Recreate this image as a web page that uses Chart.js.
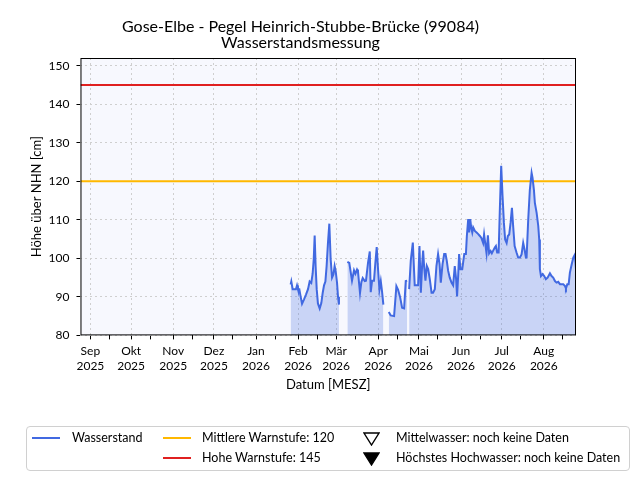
<!DOCTYPE html>
<html lang="de">
<head>
<meta charset="utf-8">
<title>Gose-Elbe - Pegel Heinrich-Stubbe-Brücke</title>
<script src="https://cdn.jsdelivr.net/npm/chart.js@4.4.1/dist/chart.umd.min.js"></script>
<style>
    html, body { margin: 0; padding: 0; background: #fff; }
    #wrap { position: relative; width: 640px; height: 480px; font-family: Lato, sans-serif; color: #000; }
    #legend {
        position: absolute; left: 26px; top: 426px; width: 602px; height: 43px;
        border: 1px solid #d0d0d0; border-radius: 4px; font-size: 12.5px;
    }
    .lg { position: absolute; white-space: nowrap; line-height: 16px; }
</style>
</head>
<body>
<div id="wrap">
    <canvas id="pegelChart" width="640" height="480"></canvas>
    <div id="legend"></div>
</div>
<script>
// Tage seit 01.09.2025 (Messzeitpunkte), null im Wasserstand = Messlücke
const tage = [
    147.5, 148.0, 149.0, 150.4, 151.4, 152.2, 152.9, 153.9, 154.9, 155.9, 157.3, 158.8, 160.3, 161.5, 162.7, 163.7, 164.5, 165.2, 165.9, 166.7, 167.6, 168.9, 170.1, 171.1, 172.1, 173.1, 174.0, 175.0, 176.0, 177.0, 178.0, 179.0, 179.9, 180.7, 181.7, 182.4, 183.1,
    186.0,
    189.3, 190.7, 192.7, 194.2, 195.2, 196.4, 197.1, 198.6, 199.6, 200.6, 202.1, 203.0, 204.5, 205.8, 206.5, 207.5, 208.9, 209.9, 210.9, 211.9, 212.9, 213.9, 214.8, 215.8,
    217.8,
    219.8, 221.2, 223.7, 225.4, 226.6, 228.1, 229.6, 231.1, 232.3, 233.3,
    234.0,
    234.8, 236.0, 237.5, 238.9, 240.4, 241.4, 242.4, 243.4, 244.4, 245.1,
    245.8, 246.8, 247.8, 248.8, 250.0, 251.3, 252.4, 253.7, 254.9, 256.1,
    257.2, 258.1, 259.4, 260.6, 261.6, 262.5, 263.5, 264.7, 266.0, 267.2,
    268.4, 269.4, 270.1, 270.9, 271.6, 272.6, 273.9, 275.4, 276.6, 277.3,
    278.3, 279.0, 279.8, 280.5, 281.3, 282.0, 283.2, 284.5, 285.7, 286.9,
    288.0, 289.3, 290.0, 291.1, 291.8, 292.8, 293.7, 294.8, 295.7, 296.7,
    297.9, 298.7, 299.6, 300.7, 301.6, 302.6, 303.6, 304.6, 305.5, 306.6,
    307.5, 308.5, 309.5, 310.5, 311.4, 312.5, 313.9, 315.1, 316.4, 317.6,
    318.8, 319.8, 320.8, 321.3, 322.5, 323.7, 325.0, 325.7, 326.7, 327.4,
    328.7, 329.9, 330.6, 331.1, 331.9, 333.1, 334.3, 335.5, 336.8, 338.5,
    339.7, 340.9, 342.2, 343.4, 344.6, 345.9, 348.3, 349.6, 350.3, 351.3,
    352.3, 353.2, 354.5, 355.7, 356.9, 357.7
];

// Wasserstand in cm über NHN
const wasserstand = [
    93.2, 94.0, 92.0, 92.0, 92.0, 93.0, 92.0, 92.0, 90.0, 88.2, 89.3, 90.6, 92.0, 94.0, 93.6, 96.0, 99.7, 105.9, 98.0, 92.0, 88.3, 87.0, 88.4, 91.0, 93.0, 94.0, 98.0, 104.0, 109.0, 99.7, 95.0, 95.8, 98.0, 96.6, 93.6, 90.0, 88.0,
    null,
    99.1, 98.8, 94.2, 96.9, 96.0, 97.1, 96.6, 91.0, 93.8, 94.9, 94.1, 94.2, 98.8, 101.8, 91.2, 94.2, 94.2, 98.8, 102.9, 97.1, 91.9, 94.1, 91.5, 88.0,
    null,
    86.1, 85.2, 85.0, 92.8, 91.9, 90.0, 87.2, 87.0, 94.1, 94.2,
    null,
    92.0, 99.4, 104.1, 93.0, 93.0, 93.0, 103.2, 91.1, 98.5, 102.0,
    98.0, 94.2, 98.0, 97.2, 94.6, 91.1, 91.1, 92.0, 98.0, 101.1,
    98.5, 93.7, 98.5, 101.1, 101.1, 99.4, 96.8, 95.0, 93.7, 93.0,
    98.0, 94.6, 90.1, 95.5, 101.1, 97.2, 97.2, 101.1, 101.1, 105.8,
    110.2, 106.7, 110.2, 108.0, 106.7, 108.0, 107.1, 106.7, 106.3, 105.8,
    105.3, 104.0, 106.2, 103.2, 101.3, 106.0, 101.3, 101.9, 101.3, 102.0,
    102.8, 103.2, 101.5, 101.5, 112.7, 124.0, 116.1, 109.2, 104.9, 104.0,
    105.8, 106.2, 109.2, 113.1, 108.4, 103.2, 101.5, 100.2, 100.2, 101.0,
    104.0, 102.3, 100.2, 100.2, 110.0, 117.8, 122.2, 120.9, 117.8, 114.4,
    111.8, 108.4, 104.9, 97.2, 95.4, 95.9, 95.4, 94.6, 95.0, 96.1,
    95.4, 95.0, 94.1, 93.7, 93.9, 93.3, 93.3, 92.8, 92.2, 93.3,
    93.3, 96.3, 98.4, 100.2, 101.0, 97.2
];

const mittlereWarnstufe = 120;
const hoheWarnstufe = 145;

const monatsNamen = ["Jan", "Feb", "Mär", "Apr", "Mai", "Jun", "Jul", "Aug", "Sep", "Okt", "Nov", "Dez"];
const yTicks = [80, 90, 100, 110, 120, 130, 140, 150];

// sichtbarer Zeitraum (Tage seit 01.09.2025) und Höhenbereich
const xVon = -7.3;
const xBis = 357.7;
const yVon = 80;
const yBis = 152;

const FONT = "Lato, 'Open Sans', sans-serif";
const tagNull = Date.UTC(2025, 8, 1);

// Monatsanfänge (beschriftet) und Monatsmitte (nur Strich)
const monatsAnfang = new Map();
const xTicks = [];
for (let k = -1; k <= 12; k++) {
    const start = new Date(Date.UTC(2025, 8 + k, 1));
    const d0 = (start.getTime() - tagNull) / 86400000;
    const d15 = (Date.UTC(start.getUTCFullYear(), start.getUTCMonth(), 15) - tagNull) / 86400000;
    if (d0 >= xVon && d0 <= xBis) {
        monatsAnfang.set(d0, [monatsNamen[start.getUTCMonth()], String(start.getUTCFullYear())]);
        xTicks.push(d0);
    }
    if (d15 >= xVon && d15 <= xBis) xTicks.push(d15);
}

const plotFrame = {
    id: "plotFrame",
    beforeDraw(chart) {
        const a = chart.chartArea;
        const ctx = chart.ctx;
        ctx.save();
        ctx.fillStyle = "#f7f8fe";
        ctx.fillRect(a.left, a.top, a.right - a.left, a.bottom - a.top);
        ctx.restore();
    },
    afterDraw(chart) {
        const a = chart.chartArea;
        const ctx = chart.ctx;
        ctx.save();
        ctx.strokeStyle = "#000";
        ctx.lineWidth = 1;
        ctx.strokeRect(a.left + 0.5, a.top + 0.5, a.right - a.left - 1, a.bottom - a.top - 1);
        ctx.restore();
    }
};

const canvas = document.getElementById("pegelChart");

const pegelChart = new Chart(canvas, {
    type: "line",
    data: {
        datasets: [
            {
                label: "Wasserstand",
                data: tage.map((t, i) => ({ x: t, y: wasserstand[i] })),
                borderColor: "#4169e1",
                backgroundColor: "rgba(65,105,225,0.25)",
                borderWidth: 2,
                pointRadius: 0,
                tension: 0,
                spanGaps: false,
                fill: "start"
            },
            {
                label: "Mittlere Warnstufe: " + mittlereWarnstufe,
                data: [{ x: xVon, y: mittlereWarnstufe }, { x: xBis, y: mittlereWarnstufe }],
                borderColor: "#ffb800",
                borderWidth: 2,
                pointRadius: 0,
                fill: false
            },
            {
                label: "Hohe Warnstufe: " + hoheWarnstufe,
                data: [{ x: xVon, y: hoheWarnstufe }, { x: xBis, y: hoheWarnstufe }],
                borderColor: "#e02020",
                borderWidth: 2,
                pointRadius: 0,
                fill: false
            },
            {
                label: "Mittelwasser: noch keine Daten",
                data: [],
                showLine: false,
                pointStyle: "triangle",
                rotation: 180,
                borderColor: "#000",
                backgroundColor: "rgba(0,0,0,0)"
            },
            {
                label: "Höchstes Hochwasser: noch keine Daten",
                data: [],
                showLine: false,
                pointStyle: "triangle",
                rotation: 180,
                borderColor: "#000",
                backgroundColor: "#000"
            }
        ]
    },
    options: {
        responsive: false,
        animation: false,
        layout: { padding: { left: 25, right: 64, top: 0, bottom: 87 } },
        plugins: {
            legend: { display: false },
            tooltip: { enabled: false },
            title: {
                display: true,
                text: ["Gose-Elbe - Pegel Heinrich-Stubbe-Brücke (99084)", "Wasserstandsmessung"],
                color: "#000",
                font: { family: FONT, size: 16, weight: "normal", lineHeight: 1.0 },
                padding: { top: 19, bottom: 7 }
            }
        },
        scales: {
            x: {
                type: "linear",
                min: xVon,
                max: xBis,
                afterBuildTicks: scale => { scale.ticks = xTicks.map(v => ({ value: v })); },
                ticks: {
                    autoSkip: false,
                    maxRotation: 0,
                    padding: 4,
                    color: "#000",
                    font: { family: FONT, size: 12, lineHeight: 1.25 },
                    callback: v => monatsAnfang.get(v) || ""
                },
                grid: {
                    color: ctx => (ctx.tick && monatsAnfang.has(ctx.tick.value)) ? "#cfcfcf" : "rgba(0,0,0,0)",
                    tickColor: "#000",
                    tickLength: 4
                },
                border: { display: false, dash: [2, 3] },
                title: {
                    display: true,
                    text: "Datum [MESZ]",
                    color: "#000",
                    font: { family: FONT, size: 13 },
                    padding: { top: 0, bottom: 0 }
                }
            },
            y: {
                min: yVon,
                max: yBis,
                afterBuildTicks: scale => { scale.ticks = yTicks.map(v => ({ value: v })); },
                ticks: {
                    padding: 7,
                    color: "#000",
                    font: { family: FONT, size: 12 }
                },
                grid: {
                    color: "#cfcfcf",
                    tickColor: "#000",
                    tickLength: 4
                },
                border: { display: false, dash: [2, 3] },
                title: {
                    display: true,
                    text: "Höhe über NHN [cm]",
                    color: "#000",
                    font: { family: FONT, size: 13 },
                    padding: { top: 4, bottom: -3 }
                }
            }
        }
    },
    plugins: [plotFrame]
});

// Legende im Kasten unter dem Diagramm, spaltenweise wie im Original
function buildLegend(chart) {
    const box = document.getElementById("legend");
    const slots = [[0, 0], [1, 0], [1, 1], [2, 0], [2, 1]];
    const handleLeft = [5, 136, 336];
    const textLeft = [45, 175, 369];
    const rowTop = [3, 23];

    chart.data.datasets.forEach((ds, i) => {
        const [col, row] = slots[i];
        const handle = document.createElement("div");
        handle.className = "lg";
        handle.style.left = handleLeft[col] + "px";
        if (ds.pointStyle === "triangle") {
            const fill = ds.backgroundColor === "#000" ? "#000" : "none";
            handle.style.top = (rowTop[row] + 2) + "px";
            handle.innerHTML = '<svg width="17" height="14" viewBox="0 0 17 14">' +
                '<polygon points="1,1 16,1 8.5,13" fill="' + fill + '" stroke="#000" stroke-width="1.4"/></svg>';
        } else {
            handle.style.top = (rowTop[row] + 7) + "px";
            handle.style.width = "28px";
            handle.style.height = "2px";
            handle.style.background = ds.borderColor;
        }
        box.appendChild(handle);

        const text = document.createElement("div");
        text.className = "lg";
        text.style.left = textLeft[col] + "px";
        text.style.top = rowTop[row] + "px";
        text.textContent = ds.label;
        box.appendChild(text);
    });
}
buildLegend(pegelChart);
</script>
</body>
</html>
